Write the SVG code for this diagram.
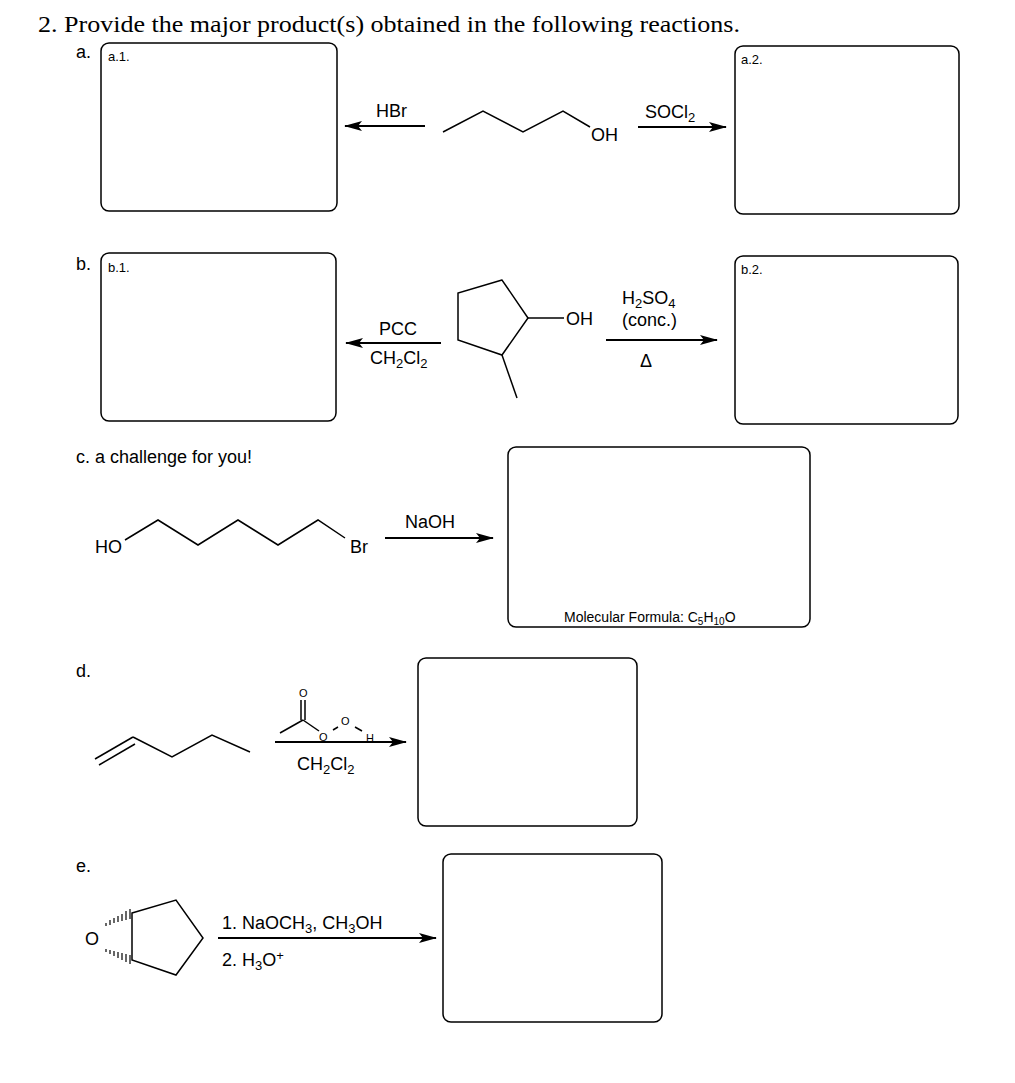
<svg xmlns="http://www.w3.org/2000/svg" width="1015" height="1083" viewBox="0 0 1015 1083">
<style>
.box{fill:none;stroke:#000;stroke-width:1.5}
.b{fill:none;stroke:#000;stroke-width:1.5}
.t{font-family:"Liberation Sans",Arial,sans-serif;font-size:18px;fill:#000}
.s{font-family:"Liberation Sans",Arial,sans-serif;font-size:13px;fill:#000}
.h{font-family:"Liberation Serif",serif;font-size:24px;fill:#000}
.ar{stroke:#000;stroke-width:1.8;fill:none}
</style>
<defs>
<marker id="ah" markerWidth="18" markerHeight="10" refX="17" refY="5" orient="auto" markerUnits="userSpaceOnUse">
<path d="M0,0 L18,5 L0,10 L4,5 z" fill="#000"/>
</marker>
</defs>
<rect width="1015" height="1083" fill="#fff"/>
<text class="h" x="38" y="32" textLength="702" lengthAdjust="spacingAndGlyphs">2.  Provide the major product(s) obtained in the following reactions.</text>

<g id="partA">
<text class="t" x="76" y="58">a.</text>
<rect class="box" x="101" y="43" width="236" height="168" rx="8"/>
<text class="s" x="108" y="61">a.1.</text>
<rect class="box" x="735" y="46" width="224" height="168" rx="8"/>
<text class="s" x="741" y="64">a.2.</text>
<polyline class="b" points="443,132 483,111 523,132 563,111 590,127"/>
<text class="t" x="591" y="141">OH</text>
<text class="t" x="376" y="117">HBr</text>
<text class="t" x="645" y="118">SOCl<tspan font-size="13" dy="4">2</tspan></text>
</g>

<g id="partB">
<text class="t" x="76" y="270">b.</text>
<rect class="box" x="101" y="253" width="235" height="168" rx="8"/>
<text class="s" x="108" y="272">b.1.</text>
<rect class="box" x="735" y="256" width="223" height="168" rx="8"/>
<text class="s" x="741" y="274">b.2.</text>
<polygon class="b" points="502,280 458,293 458,340 502,355 528,318"/>
<line class="b" x1="528" y1="318" x2="564" y2="318"/>
<line class="b" x1="502" y1="355" x2="517" y2="398"/>
<text class="t" x="566" y="325">OH</text>
<text class="t" x="379" y="335">PCC</text>
<text class="t" x="370" y="364">CH<tspan font-size="13" dy="4">2</tspan><tspan dy="-4">Cl</tspan><tspan font-size="13" dy="4">2</tspan></text>
<text class="t" x="622" y="304">H<tspan font-size="13" dy="4">2</tspan><tspan dy="-4">SO</tspan><tspan font-size="13" dy="4">4</tspan></text>
<text class="t" x="622" y="326">(conc.)</text>
<text class="t" x="640" y="367">Δ</text>
</g>

<g id="partC">
<text class="t" x="76" y="463">c. a challenge for you!</text>
<rect class="box" x="508" y="447" width="302" height="180" rx="8"/>
<text class="s" x="564" y="622" style="font-size:14px">Molecular Formula: C<tspan font-size="10" dy="3">5</tspan><tspan dy="-3">H</tspan><tspan font-size="10" dy="3">10</tspan><tspan dy="-3">O</tspan></text>
<text class="t" x="95" y="553">HO</text>
<polyline class="b" points="125,540 158,520 198,545 238,520 278,545 318,520 345,538"/>
<text class="t" x="350" y="553">Br</text>
<text class="t" x="405" y="528">NaOH</text>
</g>

<g id="partD">
<text class="t" x="76" y="677">d.</text>
<rect class="box" x="418" y="658" width="219" height="168" rx="8"/>
<line class="b" x1="95" y1="759" x2="133" y2="737"/>
<line class="b" x1="99" y1="765" x2="135" y2="744"/>
<polyline class="b" points="133,737 172,757 212,735 250,752"/>
<line class="b" x1="280" y1="733" x2="303" y2="720"/>
<line class="b" x1="301" y1="720" x2="301" y2="700"/>
<line class="b" x1="305" y1="720" x2="305" y2="700"/>
<line class="b" x1="303" y1="720" x2="319" y2="731"/>
<line class="b" x1="333" y1="730" x2="338" y2="727"/>
<line class="b" x1="355" y1="727" x2="362" y2="731"/>
<text class="s" x="299" y="697" style="font-size:11px">O</text>
<text class="s" x="319" y="741" style="font-size:11px">O</text>
<text class="s" x="341" y="725" style="font-size:11px">O</text>
<text class="s" x="366" y="742" style="font-size:11px">H</text>
<text class="t" x="297" y="770">CH<tspan font-size="13" dy="4">2</tspan><tspan dy="-4">Cl</tspan><tspan font-size="13" dy="4">2</tspan></text>
</g>

<g id="partE">
<text class="t" x="85" y="945">O</text>
<text class="t" x="76" y="872">e.</text>
<rect class="box" x="443" y="854" width="219" height="168" rx="8"/>
<polygon class="b" points="132,913 176,900 203,938 176,975 132,960"/>
<g stroke="#000" stroke-width="1.2">
<line x1="130" y1="909" x2="130" y2="919"/>
<line x1="126" y1="911" x2="126" y2="920"/>
<line x1="122" y1="914" x2="122" y2="921"/>
<line x1="118" y1="916" x2="118" y2="922"/>
<line x1="114" y1="918" x2="114" y2="923"/>
<line x1="110" y1="920" x2="110" y2="925"/>
<line x1="106" y1="923" x2="106" y2="926"/>
<line x1="130" y1="955" x2="130" y2="964"/>
<line x1="126" y1="954" x2="126" y2="962"/>
<line x1="122" y1="953" x2="122" y2="960"/>
<line x1="118" y1="952" x2="118" y2="958"/>
<line x1="114" y1="951" x2="114" y2="956"/>
<line x1="110" y1="950" x2="110" y2="954"/>
<line x1="106" y1="949" x2="106" y2="952"/>
</g>
<text class="t" x="222" y="929">1. NaOCH<tspan font-size="13" dy="4">3</tspan><tspan dy="-4">, CH</tspan><tspan font-size="13" dy="4">3</tspan><tspan dy="-4">OH</tspan></text>
<text class="t" x="222" y="966">2. H<tspan font-size="13" dy="4">3</tspan><tspan dy="-4">O</tspan><tspan font-size="13" dy="-6">+</tspan></text>
</g>

<g id="connectors">
<line class="ar" x1="425" y1="126" x2="345" y2="126" marker-end="url(#ah)"/>
<line class="ar" x1="638" y1="127" x2="726" y2="127" marker-end="url(#ah)"/>
<line class="ar" x1="441" y1="343" x2="346" y2="343" marker-end="url(#ah)"/>
<line class="ar" x1="606" y1="340" x2="717" y2="340" marker-end="url(#ah)"/>
<line class="ar" x1="385" y1="538" x2="493" y2="538" marker-end="url(#ah)"/>
<line class="ar" x1="275" y1="742" x2="406" y2="742" marker-end="url(#ah)"/>
<line class="ar" x1="218" y1="938" x2="436" y2="938" marker-end="url(#ah)"/>
</g>
</svg>
